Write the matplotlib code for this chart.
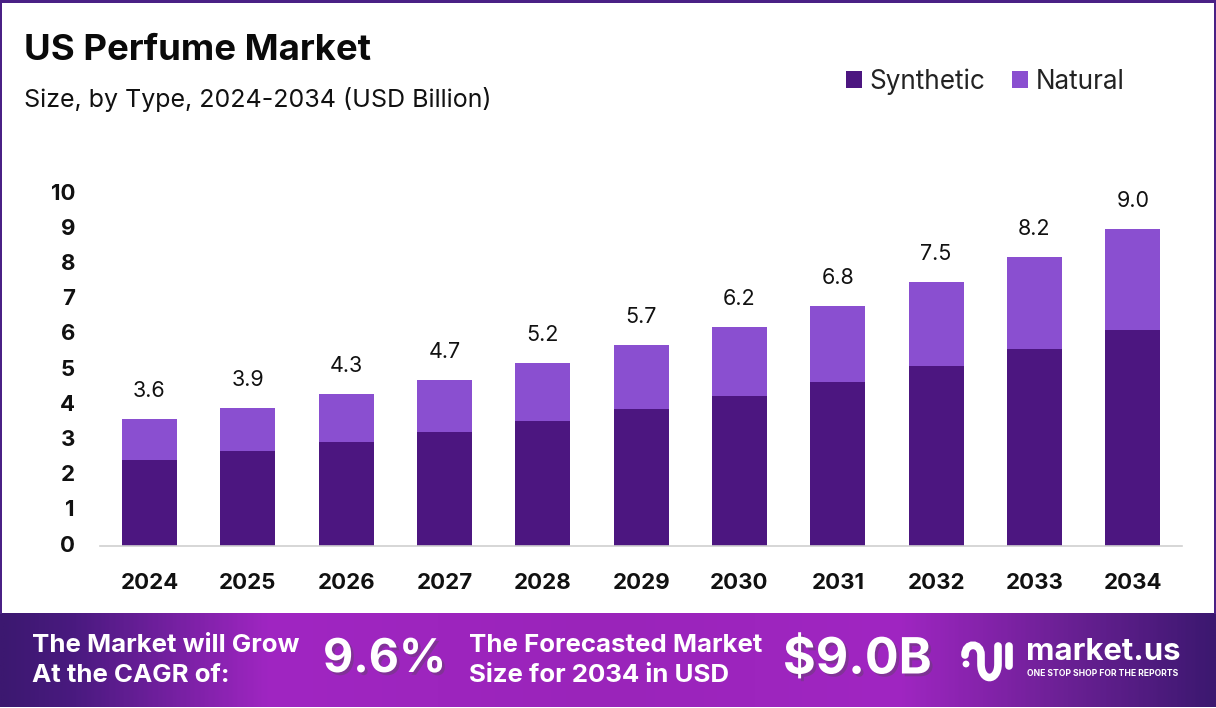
import numpy as np
import matplotlib
matplotlib.use('Agg')
import matplotlib.pyplot as plt
import matplotlib.patheffects as pe
from matplotlib.colors import LinearSegmentedColormap
from matplotlib.path import Path
from matplotlib.patches import PathPatch, Circle, Rectangle
from matplotlib.transforms import ScaledTranslation

plt.rcParams['font.family'] = ['Inter', 'DejaVu Sans']

years = ['2024', '2025', '2026', '2027', '2028', '2029', '2030', '2031', '2032', '2033', '2034']
synthetic = [2.43, 2.69, 2.94, 3.23, 3.54, 3.88, 4.25, 4.65, 5.10, 5.59, 6.13]
natural = [1.17, 1.21, 1.36, 1.47, 1.66, 1.82, 1.95, 2.15, 2.40, 2.61, 2.87]
totals = ['3.6', '3.9', '4.3', '4.7', '5.2', '5.7', '6.2', '6.8', '7.5', '8.2', '9.0']
y_ticks = [0, 1, 2, 3, 4, 5, 6, 7, 8, 9, 10]

W, H = 1216, 708
DARK = '#4c1680'
LIGHT = '#8a4fd0'

fig = plt.figure(figsize=(W / 100, H / 100), dpi=100, facecolor='white')

# full figure overlay in pixel coordinates, for frame and banner
bg = fig.add_axes([0, 0, 1, 1], zorder=0)
bg.set_xlim(0, W)
bg.set_ylim(H, 0)
bg.axis('off')
bg.add_patch(Rectangle((0, 0), W, 2.5, color='#4a2085', lw=0))
bg.add_patch(Rectangle((0, 0), 2, 614, color='#4a2085', lw=0))
bg.add_patch(Rectangle((W - 2, 0), 2, 614, color='#4a2085', lw=0))

cmap = LinearSegmentedColormap.from_list('banner', [
    (0.0, '#3c1870'), (0.06, '#4a1a80'), (0.22, '#a026c2'), (0.5, '#9a24ba'),
    (0.74, '#a026c2'), (0.88, '#6a2094'), (1.0, '#3c1870')])
grad = np.linspace(0, 1, 600).reshape(1, -1)
bg.imshow(grad, cmap=cmap, extent=(0, W, 707, 613), aspect='auto', interpolation='bilinear')
bg.set_xlim(0, W)
bg.set_ylim(H, 0)

# chart
ax = fig.add_axes([100 / W, 1 - 545.5 / H, 1082 / W, 351.7 / H], zorder=1)
ax.patch.set_alpha(0)
x = np.arange(len(years))
ax.bar(x, synthetic, width=0.56, color=DARK, label='Synthetic')
ax.bar(x, natural, width=0.56, bottom=synthetic, color=LIGHT, label='Natural')
for i, t in enumerate(totals):
    ax.annotate(t, (x[i], synthetic[i] + natural[i]), xytext=(0, 13), textcoords='offset points',
                ha='center', va='bottom', fontsize=15.5, color='#111111')
ax.set_xlim(-0.503, 10.5)
ax.set_ylim(0, 10)
ax.set_xticks(x)
ax.set_xticklabels(years, fontsize=16, fontweight='bold', color='#111111')
ax.set_yticks(y_ticks)
ax.set_yticklabels(y_ticks, fontsize=16, fontweight='bold', color='#111111')
ax.tick_params(axis='both', length=0)
ax.tick_params(axis='x', pad=20)
ax.tick_params(axis='y', pad=18)
shift = ScaledTranslation(0, 2 / 100, fig.dpi_scale_trans)
for lab in ax.get_yticklabels():
    lab.set_transform(lab.get_transform() + shift)
for s in ['top', 'right', 'left']:
    ax.spines[s].set_visible(False)
ax.spines['bottom'].set_color('#d0d0d0')
ax.spines['bottom'].set_linewidth(1.2)

fig.legend(loc='center left', bbox_to_anchor=(822 / W, 1 - 81.5 / H), ncol=2, frameon=False,
           handles=ax.containers, labels=['Synthetic', 'Natural'], fontsize=18.8, handlelength=0.62,
           handleheight=0.62, handletextpad=0.3, columnspacing=1.0, labelcolor='#222222')

# headings
bg.text(24, 50, 'US Perfume Market', fontsize=26.3, fontweight='bold', color='#0a0a0a', va='center')
bg.text(24, 100, 'Size, by Type, 2024-2034 (USD Billion)', fontsize=18, color='#111111', va='center')

# banner text
bg.text(32, 646, 'The Market will Grow', fontsize=18.6, fontweight='bold', color='white', va='center')
bg.text(32, 676, 'At the CAGR of:', fontsize=18.6, fontweight='bold', color='white', va='center')
bg.text(469, 646, 'The Forecasted Market', fontsize=18.6, fontweight='bold', color='white', va='center')
bg.text(469, 676, 'Size for 2034 in USD', fontsize=18.6, fontweight='bold', color='white', va='center')
bg.text(323, 660, '9.6%', fontsize=33.5, fontweight='bold', color='white', va='center',
        path_effects=[pe.withSimplePatchShadow(offset=(2, -2), alpha=0.35)])
bg.text(783, 660, '$9.0B', fontsize=36, fontweight='bold', color='white', va='center',
        path_effects=[pe.withSimplePatchShadow(offset=(2, -2), alpha=0.35)])

# logo
verts = [(965, 655), (965, 642), (981, 642), (981, 655), (981, 664), (981, 682), (998, 682), (998, 664),
         (998, 646)]
codes = [Path.MOVETO, Path.CURVE4, Path.CURVE4, Path.CURVE4, Path.LINETO, Path.CURVE4, Path.CURVE4, Path.CURVE4,
         Path.LINETO]
bg.add_patch(PathPatch(Path(verts, codes), fc='none', ec='white', lw=5.5, capstyle='round'))
bg.plot([1009, 1009], [646, 666], color='white', lw=5.5, solid_capstyle='round')
bg.add_patch(Circle((966, 664), 3.4, color='white', lw=0))
bg.text(1026, 652, 'market.us', fontsize=22.4, fontweight='bold', color='white', va='center')
bg.text(1027, 673, 'ONE STOP SHOP FOR THE REPORTS', fontsize=6.2, fontweight='bold', color='white', va='center')

fig.savefig('out.png', dpi=100)
